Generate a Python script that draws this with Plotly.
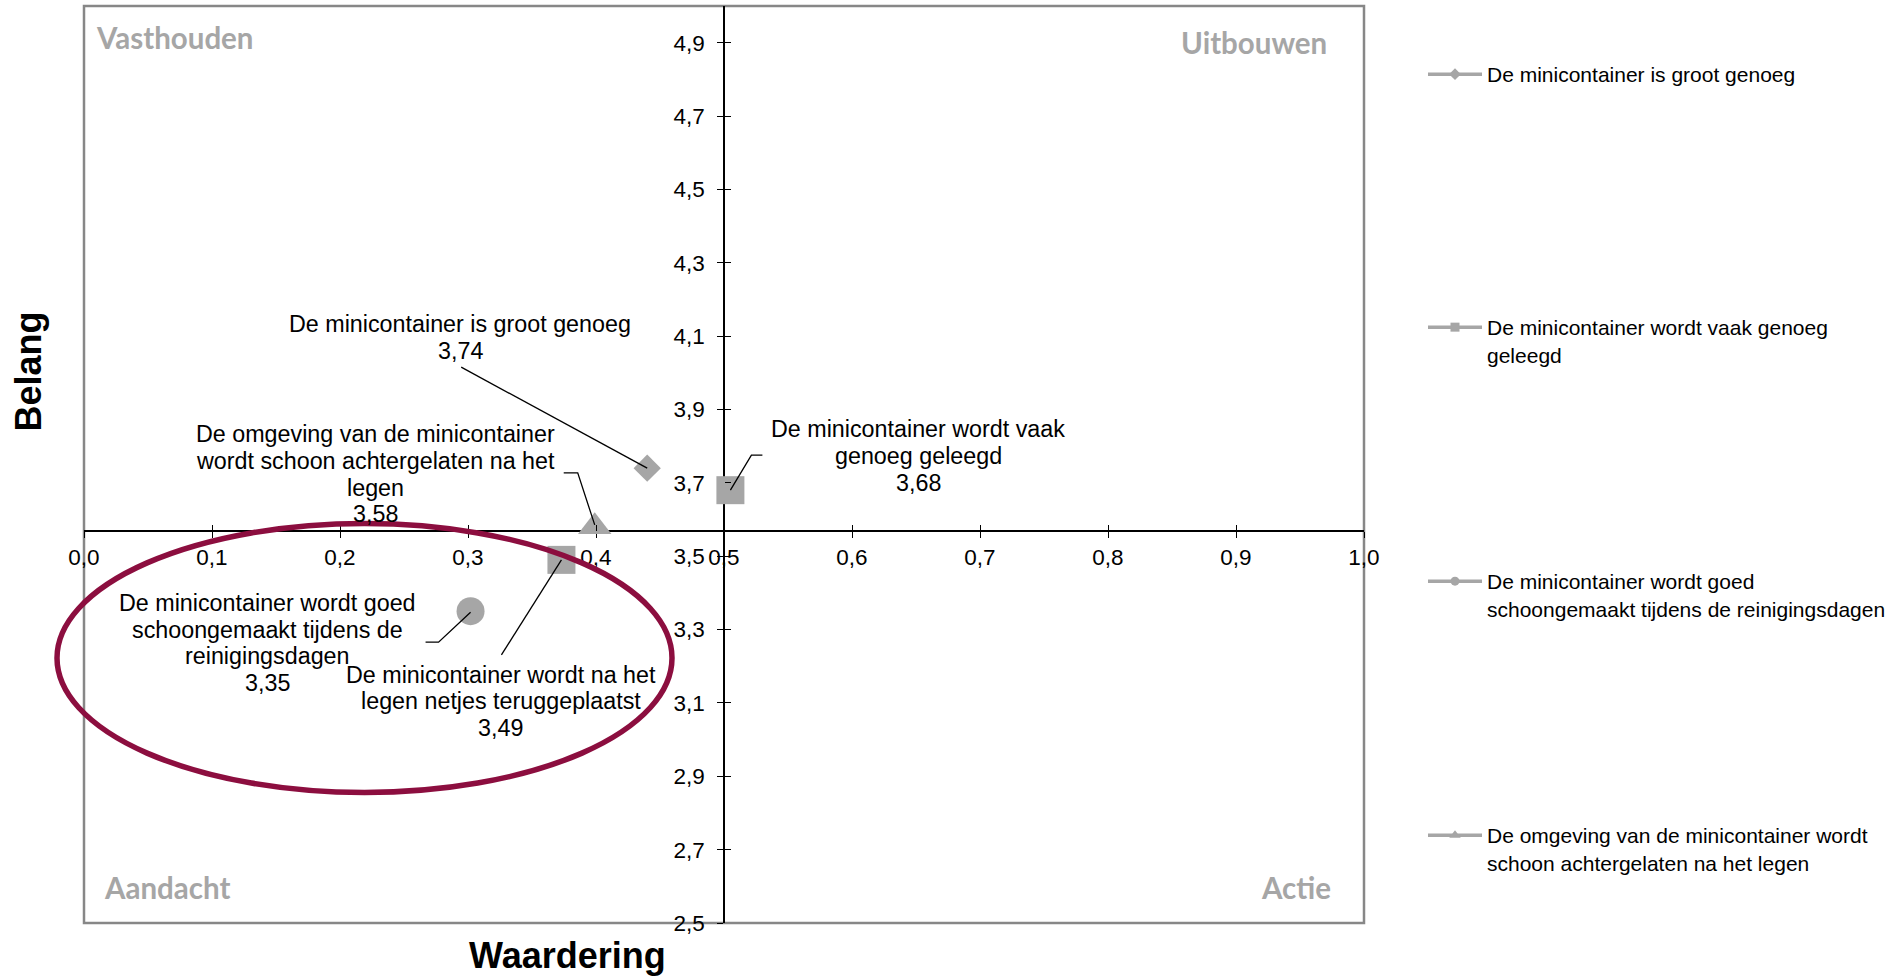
import plotly.graph_objects as go
import numpy as np

# ---------------- data ----------------
series_names = [
    "De minicontainer is groot genoeg",
    "De minicontainer wordt vaak genoeg geleegd",
    "De minicontainer wordt goed schoongemaakt tijdens de reinigingsdagen",
    "De omgeving van de minicontainer wordt schoon achtergelaten na het legen",
    "De minicontainer wordt na het legen netjes teruggeplaatst",
]
waardering = [0.44, 0.505, 0.302, 0.399, 0.373]
belang = [3.74, 3.68, 3.35, 3.58, 3.49]

legend_texts = [
    "De minicontainer is groot genoeg",
    "De minicontainer wordt vaak genoeg<br>geleegd",
    "De minicontainer wordt goed<br>schoongemaakt tijdens de reinigingsdagen",
    "De omgeving van de minicontainer wordt<br>schoon achtergelaten na het legen",
]
label_lines = [
    ["De minicontainer is groot genoeg"],
    ["De minicontainer wordt vaak", "genoeg geleegd"],
    ["De minicontainer wordt goed", "schoongemaakt tijdens de", "reinigingsdagen"],
    ["De omgeving van de minicontainer", "wordt schoon achtergelaten na het", "legen"],
    ["De minicontainer wordt na het", "legen netjes teruggeplaatst"],
]
x_tick_values = [0.0, 0.1, 0.2, 0.3, 0.4, 0.5, 0.6, 0.7, 0.8, 0.9, 1.0]
x_tick_labels = ["0,0", "0,1", "0,2", "0,3", "0,4", "0,5", "0,6", "0,7", "0,8", "0,9", "1,0"]
y_tick_values = [2.5, 2.7, 2.9, 3.1, 3.3, 3.5, 3.7, 3.9, 4.1, 4.3, 4.5, 4.7, 4.9]
y_tick_labels = ["2,5", "2,7", "2,9", "3,1", "3,3", "3,5", "3,7", "3,9", "4,1", "4,3", "4,5", "4,7", "4,9"]
quadrant_labels = ["Vasthouden", "Uitbouwen", "Aandacht", "Actie"]
x_title = "Waardering"
y_title = "Belang"

# ---------------- styling / layout ----------------
FONT = "Liberation Sans, Arial, sans-serif"
GREY = "#A6A6A6"
FRAME = "#878787"
RED = "#8C0E3F"
W_PX, H_PX = 1897, 978
PL, PR, PT, PB = 84, 1364, 6, 923
PW, PH = PR - PL, PB - PT


def pxx(px):
    return (px - PL) / PW


def pxy(py):
    return (PB - py) / PH


X_RANGE = [0.0, 1.0]
Y_RANGE = [2.5, 5.0]
x_cross = 0.5
y_cross = float(np.mean(belang))
xaxis_pos = (y_cross - Y_RANGE[0]) / (Y_RANGE[1] - Y_RANGE[0])
yaxis_pos = (x_cross - X_RANGE[0]) / (X_RANGE[1] - X_RANGE[0])

symbols = ["diamond", "square", "circle", "triangle-up", "square"]
sizes = [21, 28, 28, 29, 28]
legend_symbol_sizes = [9, 9, 9, 10]

# label placement (pixel offsets of the label block centre from the point; y up)
label_shift = [(-187, 130.5), (188, 34), (-202.6, -31.8), (-219, 52.5), (-60.5, -141.5)]
LS = 26.7
# leader lines (pixel offsets from point; y up)
leaders = [
    [(0, 0), (-186, 101)],
    [(0, 0), (21, 35), (32, 35)],
    [(0, -1), (-32, -31), (-45, -31)],
    [(0, 2), (-17, 54), (-31, 54)],
    [(0, 0), (-60, -95)],
]

fig = go.Figure()

for i, name in enumerate(series_names):
    fig.add_trace(go.Scatter(
        x=[waardering[i]], y=[belang[i]], mode="markers", name=name,
        marker=dict(symbol=symbols[i], size=sizes[i], color=GREY, line=dict(width=0)),
        showlegend=False, hoverinfo="skip",
    ))

legend_keys = ["legend", "legend2", "legend3", "legend4"]
for i, txt in enumerate(legend_texts):
    fig.add_trace(go.Scatter(
        x=[None], y=[None], mode="lines+markers", name=txt,
        line=dict(color=GREY, width=3.5),
        marker=dict(symbol=symbols[i], size=legend_symbol_sizes[i], color=GREY),
        legend=legend_keys[i], showlegend=True, hoverinfo="skip",
    ))

# overlay axes to produce cross tick marks
fig.add_trace(go.Scatter(x=[None], y=[None], xaxis="x2", yaxis="y2",
                         showlegend=False, hoverinfo="skip"))

annotations = []
shapes = []

# data labels
for i, lines in enumerate(label_lines):
    all_lines = lines + [f"{belang[i]:.2f}".replace(".", ",")]
    n = len(all_lines)
    sx, sy = label_shift[i]
    for j, t in enumerate(all_lines):
        annotations.append(dict(
            x=waardering[i], y=belang[i], xref="x", yref="y", text=t, showarrow=False,
            xanchor="center", yanchor="middle", xshift=sx,
            yshift=sy - (j - (n - 1) / 2) * LS,
            font=dict(family=FONT, size=23.3, color="black"),
        ))
    pts = leaders[i]
    path = "M" + " L".join(f"{px},{py}" for px, py in pts)
    shapes.append(dict(
        type="path", xref="x", yref="y", xsizemode="pixel", ysizemode="pixel",
        xanchor=waardering[i], yanchor=belang[i], path=path,
        line=dict(color="black", width=1.3),
    ))

# quadrant labels
qpos = [
    (pxx(94), pxy(37), "left"),
    (pxx(1329), pxy(42.5), "right"),
    (pxx(102), pxy(887), "left"),
    (pxx(1333), pxy(887), "right"),
]
for t, (qx, qy, anc) in zip(quadrant_labels, qpos):
    annotations.append(dict(
        x=qx, y=qy, xref="paper", yref="paper", text=t, showarrow=False,
        xanchor=anc, yanchor="middle",
        font=dict(family="Lato, Liberation Sans, sans-serif", size=29.5, color=GREY, weight="bold"),
    ))

# axis titles
annotations.append(dict(
    x=pxx(567), y=pxy(955), xref="paper", yref="paper", text=f"<b>{x_title}</b>",
    showarrow=False, xanchor="center", yanchor="middle",
    font=dict(family=FONT, size=36, color="black"),
))
annotations.append(dict(
    x=pxx(28.5), y=pxy(372), xref="paper", yref="paper", text=f"<b>{y_title}</b>",
    showarrow=False, xanchor="center", yanchor="middle", textangle=-90,
    font=dict(family=FONT, size=36, color="black"),
))

# frame
shapes.append(dict(type="rect", xref="paper", yref="paper", x0=0, x1=1, y0=0, y1=1,
                   line=dict(color=FRAME, width=2.5), layer="below"))
# ellipse highlight
shapes.append(dict(type="circle", xref="paper", yref="paper",
                   x0=pxx(57), x1=pxx(672), y0=pxy(792.5), y1=pxy(523.5),
                   line=dict(color=RED, width=5.5), layer="above"))

axis_common = dict(showgrid=False, zeroline=False, anchor="free")

legend_y_px = [69, 322, 576, 830]
legend_layouts = {}
for k, ly in zip(legend_keys, legend_y_px):
    legend_layouts[k] = dict(
        x=pxx(1423), y=pxy(ly - 15), xanchor="left", yanchor="top",
        font=dict(family=FONT, size=21, color="black"), bgcolor="rgba(0,0,0,0)",
        valign="top", itemwidth=54,
    )

fig.update_layout(
    width=W_PX, height=H_PX,
    margin=dict(l=PL, r=W_PX - PR, t=PT, b=H_PX - PB, pad=0, autoexpand=False),
    paper_bgcolor="white", plot_bgcolor="white",
    font=dict(family=FONT, size=22, color="black"),
    xaxis=dict(range=X_RANGE, position=xaxis_pos, tickvals=x_tick_values, ticktext=x_tick_labels,
               ticks="outside", ticklen=6, tickwidth=1.3, tickcolor="black",
               showline=True, linecolor="black", linewidth=1.5, layer="below traces",
               tickfont=dict(family=FONT, size=22.5), ticklabelstandoff=0, **axis_common),
    yaxis=dict(range=Y_RANGE, position=yaxis_pos, tickvals=y_tick_values, ticktext=y_tick_labels,
               ticks="outside", ticklen=6, tickwidth=1.3, tickcolor="black",
               showline=True, linecolor="black", linewidth=1.5, layer="below traces",
               tickfont=dict(family=FONT, size=22.5), ticklabelstandoff=8, **axis_common),
    xaxis2=dict(range=X_RANGE, position=xaxis_pos, overlaying="x", tickvals=x_tick_values,
                ticks="inside", ticklen=6, tickwidth=1.3, tickcolor="black",
                showticklabels=False, showline=False, **axis_common),
    yaxis2=dict(range=Y_RANGE, position=yaxis_pos, overlaying="y", tickvals=y_tick_values,
                ticks="inside", ticklen=6, tickwidth=1.3, tickcolor="black",
                showticklabels=False, showline=False, **axis_common),
    annotations=annotations,
    shapes=shapes,
    hovermode=False,
    **legend_layouts,
)

fig.write_html("out.html", config={"displayModeBar": False},
               post_script="document.body.style.margin='0';document.body.style.overflow='hidden';")
